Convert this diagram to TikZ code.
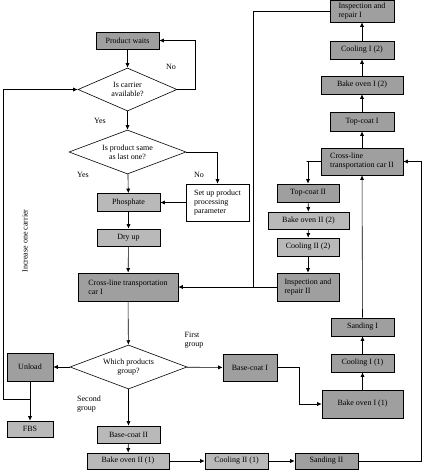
\documentclass[tikz,border=0pt]{standalone}
\usepackage{fontspec}
\setmainfont{Liberation Serif}
\usepackage{tikz}
\usetikzlibrary{shapes.geometric,arrows.meta}

\begin{document}
\begin{tikzpicture}[x=1pt,y=-1pt,
            font=\fontsize{8}{9}\selectfont,
            box/.style={draw,fill=gray!75,inner sep=1pt,align=center},
            lbox/.style={draw,fill=gray!55,inner sep=1pt,align=center},
            ask/.style={draw,diamond,aspect=2.3,inner sep=0pt,align=center,fill=white},
            arr/.style={-{Latex[length=4.5pt,width=4pt]}},
            line width=0.6pt]
            \useasboundingbox (0,0) rectangle (427,474);

            \node[box,minimum width=63pt,minimum height=17pt] (wait) at (127.5,40.5) {Product waits};
            \node[ask,minimum width=99pt,minimum height=43pt] (carrier) at (127.5,89.5) {Is carrier\\available?};
            \node[ask,minimum width=117pt,minimum height=44pt] (same) at (127.5,152) {Is product same\\as last one?};
            \node[draw,fill=white,align=left,inner sep=2pt,minimum width=63pt,minimum height=37pt] (setup) at (217.5,202.5) {Set up product\\processing\\parameter};
            \node[lbox,minimum width=63pt,minimum height=18pt] (phos) at (128.5,202.5) {Phosphate};
            \node[lbox,minimum width=63pt,minimum height=17pt] (dry) at (128.5,237.5) {Dry up};
            \node[box,align=left,minimum width=100pt,minimum height=28pt] (carI) at (128,287) {Cross-line transportation\\car I};
            \node[ask,minimum width=117pt,minimum height=44pt] (group) at (128.5,367) {Which products\\group?};
            \node[box,minimum width=46pt,minimum height=28pt] (unload) at (30,367) {Unload};
            \node[lbox,minimum width=46pt,minimum height=16pt] (fbs) at (30,429) {FBS};
            \node[lbox,minimum width=63pt,minimum height=17pt] (basecII) at (128.5,434.5) {Base-coat II};
            \node[lbox,minimum width=82pt,minimum height=16pt] (bakeIIa) at (128,461) {Bake oven II (1)};
            \node[lbox,minimum width=63pt,minimum height=16pt] (coolIIa) at (236.5,461) {Cooling II (1)};
            \node[box,minimum width=63pt,minimum height=16pt] (sandII) at (326.5,461) {Sanding II};
            \node[box,minimum width=54pt,minimum height=27pt] (basecI) at (250,367.5) {Base-coat I};
            \node[box,minimum width=81pt,minimum height=28pt] (bakeIa) at (362.5,404) {Bake oven I (1)};
            \node[box,minimum width=63pt,minimum height=18pt] (coolIa) at (362.5,363) {Cooling I (1)};
            \node[box,minimum width=63pt,minimum height=18pt] (sandI) at (362.5,327) {Sanding I};
            \node[box,align=left,minimum width=82pt,minimum height=27pt] (carII) at (362,161.5) {Cross-line\\transportation car II};
            \node[box,minimum width=64pt,minimum height=19pt] (topI) at (362,121.5) {Top-coat I};
            \node[box,minimum width=82pt,minimum height=18pt] (bakeIb) at (362,85) {Bake oven I (2)};
            \node[box,minimum width=64pt,minimum height=18pt] (coolIb) at (362,50) {Cooling I (2)};
            \node[box,align=left,minimum width=64pt,minimum height=22pt] (inspI) at (362,11) {Inspection and\\repair I};
            \node[box,minimum width=62pt,minimum height=18pt] (topII) at (308,193) {Top-coat II};
            \node[lbox,minimum width=81pt,minimum height=17pt] (bakeIIb) at (308.5,220.5) {Bake oven II (2)};
            \node[lbox,minimum width=62pt,minimum height=18pt] (coolIIb) at (308,247) {Cooling II (2)};
            \node[box,align=left,minimum width=62pt,minimum height=28pt] (inspII) at (308,287) {Inspection and\\repair II};

            \node (no1) at (171,67) {No};
            \node (yes1) at (100,121) {Yes};
            \node (yes2) at (83,175) {Yes};
            \node (no2) at (199,175) {No};
            \node[align=left] (first) at (194,340) {First\\group};
            \node[align=left] (second) at (89,404) {Second\\group};
            \node[rotate=90] (more) at (25,241) {Increase one carrier};

            \coordinate (loop) at (30,399);
            \coordinate (joinI) at (253,287);

            \draw[arr] (wait) -- (carrier);
            \draw[arr] (carrier.east) -- ++(18,0) |- (wait.east);
            \draw[arr] (carrier) -- (same);
            \draw[arr] (same) -- (phos);
            \draw[arr] (same.east) -| (setup.north);
            \draw[arr] (setup) -- (phos);
            \draw[arr] (phos) -- (dry);
            \draw[arr] (dry) -- (carI);
            \draw[arr] (carI) -- (group);
            \draw[arr] (group) -- (unload);
            \draw[arr] (unload) -- (fbs);
            \draw[arr] (loop) -- ++(-27,0) |- (carrier.west);
            \draw[arr] (group) -- (basecII);
            \draw[arr] (basecII) -- (bakeIIa);
            \draw[arr] (bakeIIa) -- (coolIIa);
            \draw[arr] (coolIIa) -- (sandII);
            \draw[arr] (sandII.east) -- ++(63,0) |- (carII.east);
            \draw[arr] (group) -- (basecI);
            \draw[arr] (basecI.east) -- ++(22,0) |- (bakeIa.west);
            \draw[arr] (bakeIa) -- (coolIa);
            \draw[arr] (coolIa) -- (sandI);
            \draw[arr] (sandI) -- (carII);
            \draw[arr] (carII) -- (topI);
            \draw[arr] (topI) -- (bakeIb);
            \draw[arr] (bakeIb) -- (coolIb);
            \draw[arr] (coolIb) -- (inspI);
            \draw[arr] (carII.west) -- ++(-14,0) -| (topII.north);
            \draw[arr] (topII) -- (bakeIIb);
            \draw[arr] (bakeIIb) -- (coolIIb);
            \draw[arr] (coolIIb) -- (inspII);
            \draw[arr] (inspII) -- (carI);
            \draw (inspI.west) -| (joinI);
         \end{tikzpicture}
\end{document}
